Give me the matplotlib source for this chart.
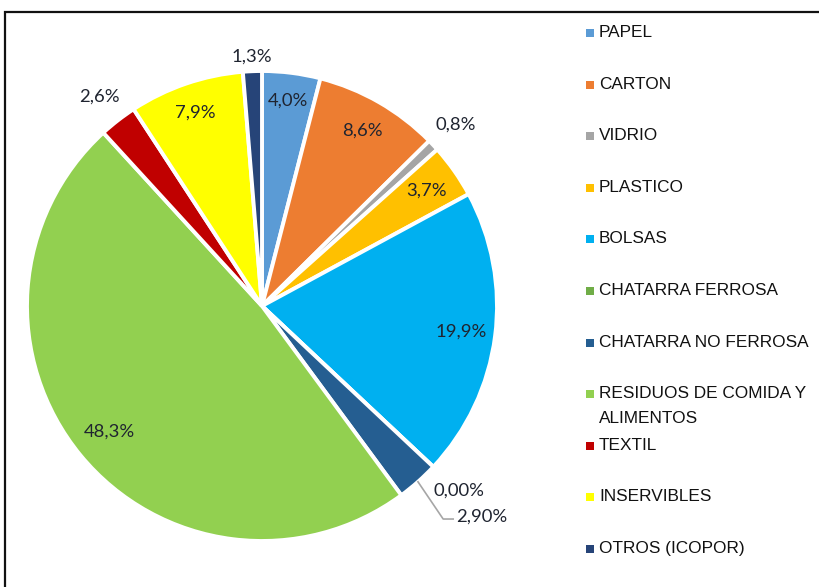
import matplotlib
matplotlib.use("Agg")
import matplotlib.pyplot as plt
import numpy as np

categories = ["PAPEL", "CARTON", "VIDRIO", "PLASTICO", "BOLSAS", "CHATARRA FERROSA",
              "CHATARRA NO FERROSA", "RESIDUOS DE COMIDA Y\nALIMENTOS", "TEXTIL",
              "INSERVIBLES", "OTROS (ICOPOR)"]
values = [4.0, 8.6, 0.8, 3.7, 19.9, 0.00, 2.90, 48.3, 2.6, 7.9, 1.3]
label_texts = ["4,0%", "8,6%", "0,8%", "3,7%", "19,9%", "0,00%", "2,90%",
               "48,3%", "2,6%", "7,9%", "1,3%"]
colors = ["#5B9BD5", "#ED7D31", "#A5A5A5", "#FFC000", "#00B0F0", "#70AD47",
          "#255E91", "#92D050", "#C00000", "#FFFF00", "#264478"]

# label radial placement (fraction of radius) - layout only
label_r = [0.88, 0.86, 1.13, 0.855, 0.855, 1.15, None, 0.84, 1.13, 0.87, 1.06]

leg_font = ["Liberation Sans", "DejaVu Sans"]
leg_size = 12.4
lab_font = ["Lato", "DejaVu Sans"]

W, H = 820, 587
fig = plt.figure(figsize=(W / 100, H / 100), dpi=100)
ax = fig.add_axes([0, 0, 1, 1])

cx, cy, R = 262, H - 306, 235
wedges, _ = ax.pie(values, colors=colors, startangle=90, counterclock=False,
                   center=(cx, cy), radius=R,
                   wedgeprops=dict(edgecolor="white", linewidth=2.8))
ax.set_xlim(0, W)
ax.set_ylim(0, H)
ax.set_aspect("equal")
ax.axis("off")

lab_color = "#1f2430"
lab_size = 13.3
for i, w in enumerate(wedges):
    mid = np.deg2rad((w.theta1 + w.theta2) / 2)
    if label_r[i] is None:
        # leader line label
        p0 = (cx + R * np.cos(mid), cy + R * np.sin(mid))
        a2 = mid - np.deg2rad(1.2)
        p1 = (cx + 1.19 * R * np.cos(a2), cy + 1.19 * R * np.sin(a2))
        p2 = (p1[0] + 10, p1[1])
        ax.plot([p0[0], p1[0], p2[0]], [p0[1], p1[1], p2[1]], color="#A6A6A6", lw=1.2)
        ax.text(p2[0] + 3, p2[1] + 2, label_texts[i], ha="left", va="center",
                fontsize=lab_size, family=lab_font, color=lab_color)
        continue
    r = label_r[i] * R
    ax.text(cx + r * np.cos(mid), cy + r * np.sin(mid), label_texts[i],
            ha="center", va="center", fontsize=lab_size, family=lab_font, color=lab_color)

# legend (manual, Excel-like)
y0, dy = 33, 51.6
for i, (cat, col) in enumerate(zip(categories, colors)):
    y = H - (y0 + i * dy)
    ax.scatter([590], [y], marker="s", s=26, color=col, linewidths=0)
    ax.text(599, y + 8, cat, ha="left", va="top", fontsize=leg_size,
            family=leg_font, color="#111111", linespacing=1.8)

# outer frame (top and left edges visible)
ax.plot([5, 5, W + 5], [-5, H - 12, H - 12], color="#111111", lw=1.6,
        solid_joinstyle="miter", clip_on=False)

fig.savefig("out.png", dpi=100)
